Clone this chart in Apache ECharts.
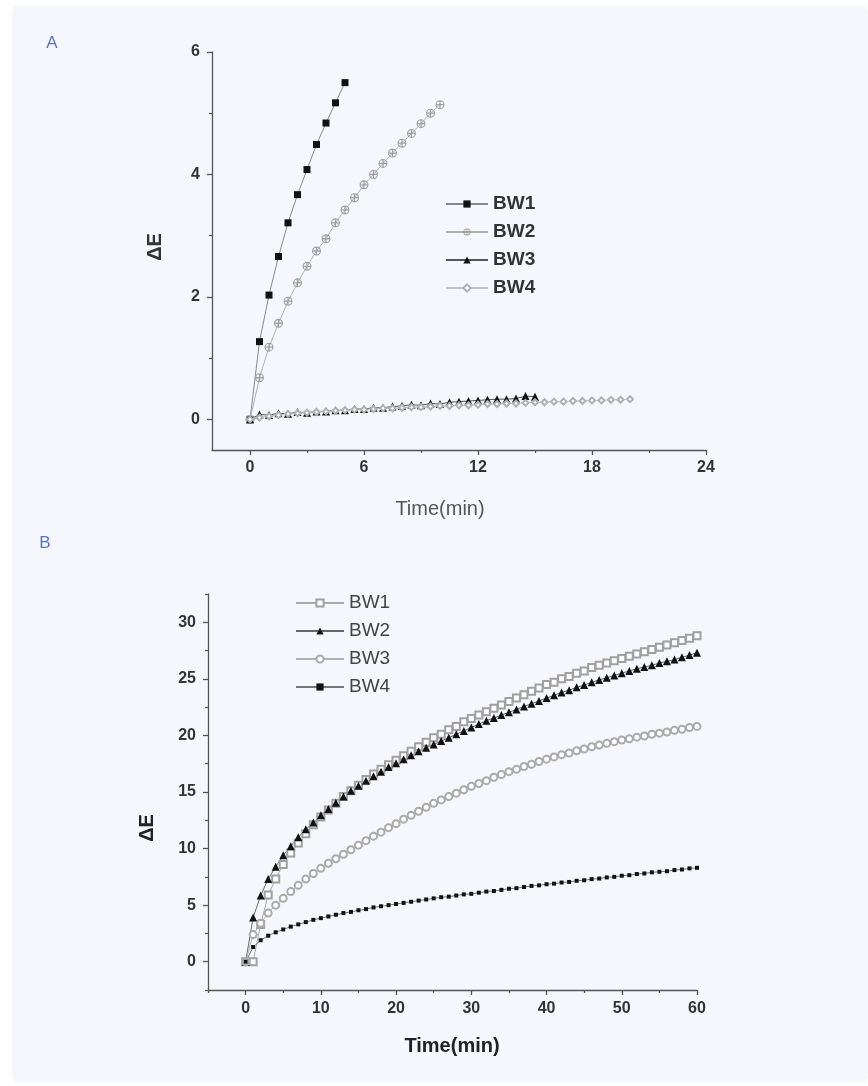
<!DOCTYPE html>
<html><head><meta charset="utf-8">
<script src="https://cdn.jsdelivr.net/npm/echarts@6/dist/echarts.min.js"></script>
<style>
html,body{margin:0;padding:0;background:#fff;width:868px;height:1086px;overflow:hidden;}
#panel{position:absolute;left:12px;top:6px;right:0;bottom:4px;background:#f6f7fc;border-radius:6px;}
#ca{position:absolute;left:0;top:0;width:868px;height:530px;}
#cb{position:absolute;left:0;top:530px;width:868px;height:556px;}
</style></head><body>
<div id="panel"></div><div id="ca"></div><div id="cb"></div>
<script>
// ---------- Panel A data (time in min, ΔE) ----------
const A_time = [0,0.5,1,1.5,2,2.5,3,3.5,4,4.5,5,5.5,6,6.5,7,7.5,8,8.5,9,9.5,10,10.5,11,11.5,12,12.5,13,13.5,14,14.5,15,15.5,16,16.5,17,17.5,18,18.5,19,19.5,20];
const A_BW1 = [0,1.27,2.03,2.66,3.21,3.67,4.08,4.49,4.84,5.17,5.5];
const A_BW2 = [0,0.68,1.18,1.57,1.93,2.23,2.5,2.75,2.95,3.21,3.42,3.62,3.83,4.0,4.18,4.35,4.51,4.67,4.83,5.0,5.14];
const A_BW3 = [0,0.08,0.07,0.1,0.09,0.12,0.11,0.13,0.13,0.15,0.15,0.17,0.17,0.19,0.19,0.21,0.22,0.24,0.23,0.26,0.25,0.28,0.29,0.30,0.31,0.32,0.33,0.33,0.34,0.38,0.37];
const A_BW4 = [0,0.03,0.05,0.07,0.09,0.1,0.11,0.12,0.13,0.14,0.15,0.16,0.16,0.17,0.18,0.18,0.19,0.2,0.2,0.21,0.22,0.22,0.23,0.23,0.24,0.25,0.25,0.26,0.26,0.27,0.28,0.28,0.29,0.29,0.3,0.3,0.31,0.31,0.32,0.32,0.33];
const A_xTicks = [0,6,12,18,24];
const A_xMinor = [3,9,15,21];
const A_yTicks = [0,2,4,6];
const A_yMinor = [1,3,5];

// ---------- Panel B data ----------
const B_time = [0,1,2,3,4,5,6,7,8,9,10,11,12,13,14,15,16,17,18,19,20,21,22,23,24,25,26,27,28,29,30,31,32,33,34,35,36,37,38,39,40,41,42,43,44,45,46,47,48,49,50,51,52,53,54,55,56,57,58,59,60];
const B_BW1 = [0,0,3.3,5.9,7.3,8.6,9.6,10.5,11.3,12.1,12.8,13.4,14.0,14.6,15.1,15.6,16.1,16.6,17.0,17.4,17.8,18.2,18.6,19.0,19.4,19.8,20.1,20.5,20.8,21.2,21.5,21.8,22.1,22.4,22.7,23.0,23.3,23.6,23.9,24.2,24.5,24.7,25.0,25.2,25.5,25.7,26.0,26.2,26.4,26.6,26.8,27.0,27.2,27.4,27.6,27.8,28.0,28.2,28.4,28.6,28.8];
const B_BW2 = [0,3.9,5.85,7.3,8.4,9.4,10.2,11.0,11.7,12.3,12.95,13.5,14.05,14.6,15.1,15.55,16.0,16.4,16.8,17.2,17.55,17.9,18.25,18.6,18.9,19.2,19.5,19.8,20.1,20.4,20.7,21.0,21.3,21.55,21.8,22.05,22.3,22.55,22.8,23.05,23.3,23.55,23.8,24.0,24.25,24.45,24.7,24.9,25.1,25.3,25.5,25.7,25.9,26.05,26.2,26.4,26.55,26.7,26.9,27.1,27.3];
const B_BW3 = [0,2.4,3.4,4.3,5.0,5.6,6.2,6.75,7.3,7.8,8.25,8.7,9.1,9.5,9.9,10.3,10.7,11.1,11.45,11.85,12.2,12.6,12.95,13.3,13.65,14.0,14.3,14.6,14.9,15.2,15.5,15.75,16.0,16.3,16.55,16.8,17.0,17.25,17.45,17.7,17.9,18.1,18.3,18.45,18.65,18.8,19.0,19.15,19.3,19.45,19.6,19.7,19.85,19.95,20.1,20.2,20.3,20.45,20.55,20.7,20.8];
const B_BW4 = [0,1.3,1.9,2.3,2.6,2.85,3.1,3.3,3.5,3.7,3.85,4.0,4.15,4.3,4.4,4.55,4.65,4.8,4.9,5.0,5.1,5.2,5.3,5.4,5.5,5.6,5.7,5.75,5.85,5.95,6.0,6.1,6.2,6.25,6.35,6.45,6.5,6.6,6.7,6.75,6.85,6.9,7.0,7.05,7.15,7.2,7.3,7.35,7.45,7.5,7.6,7.65,7.75,7.8,7.9,7.95,8.0,8.1,8.15,8.25,8.3];
const B_xTicks = [0,10,20,30,40,50,60];
const B_xMinor = [-5,5,15,25,35,45,55];
const B_yTicks = [0,5,10,15,20,25,30];
const B_yMinor = [-2.5,2.5,7.5,12.5,17.5,22.5,27.5,32.5];

const FONT = '"Liberation Sans", Arial, sans-serif';
const AXC = '#555';
const pairs = (t, v) => v.map((y, i) => [t[i], y]);

function axes(dim, min, max, major, minor, lab) {
  const pos = dim === 'x' ? 'bottom' : 'left';
  const base = { type: 'value', gridIndex: 0, min: min, max: max, position: pos, splitLine: { show: false } };
  const main = Object.assign({}, base, {
    axisLine: { show: true, onZero: false, lineStyle: { color: AXC, width: 1.3 } },
    axisTick: { show: true, inside: false, length: 5, customValues: major, lineStyle: { color: AXC, width: 1.3 } },
    axisLabel: Object.assign({ show: true, customValues: major, fontFamily: FONT, color: '#333' }, lab)
  });
  const sub = Object.assign({}, base, {
    axisLine: { show: false, onZero: false },
    axisTick: { show: true, inside: false, length: 3, customValues: minor, lineStyle: { color: AXC, width: 1.2 } },
    axisLabel: { show: false }
  });
  return [main, sub];
}

const crossCircle = 'path://M10 0A10 10 0 1 1 -10 0A10 10 0 1 1 10 0ZM7.5 0A7.5 7.5 0 1 0 -7.5 0A7.5 7.5 0 1 0 7.5 0ZM-7.5 -1.4H7.5V1.4H-7.5ZM-1.4 -7.5H1.4V7.5H-1.4Z';

function line(name, data, symbol, size, color, lineColor, bw) {
  return {
    name: name, type: 'line', xAxisIndex: 0, yAxisIndex: 0, data: data,
    symbol: symbol, symbolSize: size, showSymbol: true, showAllSymbol: true,
    itemStyle: { color: color, borderWidth: bw == null ? 1 : bw },
    lineStyle: { color: lineColor, width: 1 },
    emphasis: { disabled: true }, animation: false, clip: false
  };
}

// ---------- Chart A ----------
const chartA = echarts.init(document.getElementById('ca'), null, { renderer: 'canvas' });
const ax = axes('x', -2, 24, A_xTicks, A_xMinor, { fontSize: 16, fontWeight: 'bold', margin: 10 });
const ay = axes('y', -0.5, 6, A_yTicks, A_yMinor, { fontSize: 16, fontWeight: 'bold', margin: 12 });
chartA.setOption({
  backgroundColor: 'transparent',
  animation: false,
  grid: { left: 212, top: 52, width: 494, height: 398, containLabel: false },
  xAxis: ax,
  yAxis: ay,
  legend: {
    orient: 'vertical', left: 440, top: 189, itemWidth: 42, itemHeight: 9, itemGap: 8,
    selectedMode: false,
    textStyle: { fontFamily: FONT, fontSize: 19, fontWeight: 'bold', color: '#333', lineHeight: 20 },
    data: ['BW1', 'BW2', 'BW3', 'BW4']
  },
  graphic: [
    { type: 'text', x: 52, y: 43, style: { text: 'A', fill: '#5874c8', font: '17px ' + FONT, align: 'center', verticalAlign: 'middle' } },
    { type: 'text', x: 440, y: 509, style: { text: 'Time(min)', fill: '#555', font: '20px ' + FONT, align: 'center', verticalAlign: 'middle' } },
    { type: 'text', x: 155, y: 247, rotation: Math.PI / 2, style: { text: 'ΔE', fill: '#333', font: 'bold 20px ' + FONT, align: 'center', verticalAlign: 'middle' } }
  ],
  series: [
    line('BW1', pairs(A_time, A_BW1), 'rect', 7, '#111', '#888'),
    line('BW2', pairs(A_time, A_BW2), crossCircle, 9, '#a0a0a0', '#b0b0b0'),
    line('BW3', pairs(A_time, A_BW3), 'triangle', 8, '#111', '#555'),
    line('BW4', pairs(A_time, A_BW4), 'emptyDiamond', 6, '#b0b0b0', '#c0c0c0', 0.8)
  ]
});

// ---------- Chart B ----------
const chartB = echarts.init(document.getElementById('cb'), null, { renderer: 'canvas' });
const bx = axes('x', -5, 60, B_xTicks, B_xMinor, { fontSize: 16, fontWeight: 'bold', margin: 11 });
const by = axes('y', -2.5, 32.5, B_yTicks, B_yMinor, { fontSize: 16, fontWeight: 'bold', margin: 12 });
chartB.setOption({
  backgroundColor: 'transparent',
  animation: false,
  grid: { left: 208, top: 64, width: 489, height: 396, containLabel: false },
  xAxis: bx,
  yAxis: by,
  legend: {
    orient: 'vertical', left: 290, top: 58, itemWidth: 48, itemHeight: 9, itemGap: 8,
    selectedMode: false,
    textStyle: { fontFamily: FONT, fontSize: 19, color: '#444', lineHeight: 20 },
    data: ['BW1', 'BW2', 'BW3', 'BW4']
  },
  graphic: [
    { type: 'text', x: 45, y: 13, style: { text: 'B', fill: '#5874c8', font: '17px ' + FONT, align: 'center', verticalAlign: 'middle' } },
    { type: 'text', x: 452, y: 516, style: { text: 'Time(min)', fill: '#222', font: 'bold 20px ' + FONT, align: 'center', verticalAlign: 'middle' } },
    { type: 'text', x: 147, y: 298, rotation: Math.PI / 2, style: { text: 'ΔE', fill: '#222', font: 'bold 20px ' + FONT, align: 'center', verticalAlign: 'middle' } }
  ],
  series: [
    line('BW1', pairs(B_time, B_BW1), 'emptyRect', 7, '#a0a0a0', '#aaa', 0.8),
    line('BW2', pairs(B_time, B_BW2), 'triangle', 8, '#111', '#666'),
    line('BW3', pairs(B_time, B_BW3), 'emptyCircle', 7, '#aaaaaa', '#b0b0b0', 0.8),
    line('BW4', pairs(B_time, B_BW4), 'rect', 4, '#111', '#777')
  ]
});
</script>
</body></html>
